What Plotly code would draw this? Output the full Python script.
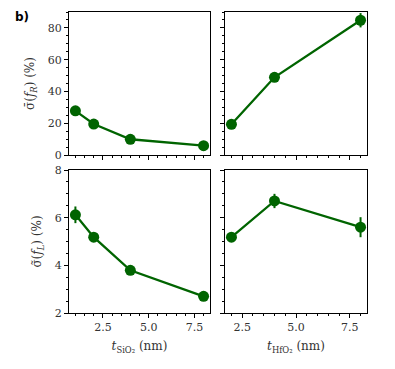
import plotly.graph_objects as go
from plotly.subplots import make_subplots

# data
t_sio2 = [1, 2, 4, 8]
t_hfo2 = [2, 4, 8]

sigma_fr_sio2 = [27.8, 19.5, 9.9, 5.9]
sigma_fr_sio2_err = [0.8, 0.8, 0.6, 0.5]
sigma_fr_hfo2 = [19.3, 48.9, 84.8]
sigma_fr_hfo2_err = [0.8, 1.2, 4.5]

sigma_fl_sio2 = [6.12, 5.18, 3.79, 2.70]
sigma_fl_sio2_err = [0.35, 0.1, 0.1, 0.08]
sigma_fl_hfo2 = [5.18, 6.70, 5.60]
sigma_fl_hfo2_err = [0.1, 0.3, 0.42]

green = "#006400"
font_fam = "DejaVu Serif"

# page body has an 8px margin, so shift everything back by that much
OFF = 8
W, H = 395, 369

fig = make_subplots(rows=2, cols=2, shared_xaxes="columns", shared_yaxes="rows")


def add_series(x, y, err, row, col):
    fig.add_trace(go.Scatter(
        x=x, y=y, mode="lines+markers",
        line=dict(color=green, width=2.3),
        marker=dict(color=green, size=11),
        error_y=dict(type="data", array=err, color=green, thickness=2, width=0),
        showlegend=False), row=row, col=col)


add_series(t_sio2, sigma_fr_sio2, sigma_fr_sio2_err, 1, 1)
add_series(t_hfo2, sigma_fr_hfo2, sigma_fr_hfo2_err, 1, 2)
add_series(t_sio2, sigma_fl_sio2, sigma_fl_sio2_err, 2, 1)
add_series(t_hfo2, sigma_fl_hfo2, sigma_fl_hfo2_err, 2, 2)

axis_style = dict(showline=True, linecolor="black", linewidth=1.2, mirror=True,
                  ticks="outside", ticklen=4, tickwidth=1, tickcolor="black",
                  showgrid=False, zeroline=False, automargin=False,
                  minor=dict(ticks="outside", ticklen=2, tickcolor="black", showgrid=False),
                  tickfont=dict(family=font_fam, size=11, color="#333"))


def xdom(a, b):
    return [(a - OFF) / W, (b - OFF) / W]


def ydom(top, bot):
    return [1 - (bot - OFF) / H, 1 - (top - OFF) / H]


fig.update_xaxes(**axis_style)
fig.update_yaxes(**axis_style)

fig.update_xaxes(domain=xdom(69, 210), range=[0.65, 8.35], dtick=2.5, tick0=0,
                 minor_dtick=0.5, col=1)
fig.update_xaxes(domain=xdom(225, 367), range=[1.7, 8.3], dtick=2.5, tick0=0,
                 minor_dtick=0.5, col=2)
fig.update_xaxes(tickformat=".1f", row=2)

fig.update_yaxes(domain=ydom(12, 155), range=[0, 90], dtick=20, minor_dtick=5, row=1)
fig.update_yaxes(domain=ydom(170, 313), range=[2, 8], dtick=2, minor_dtick=0.5, row=2)

title_font = dict(family=font_fam, size=12, color="#333")
fig.update_yaxes(title=dict(text="σ̄(<i>f<sub>R</sub></i>) (%)", font=title_font, standoff=10),
                 row=1, col=1)
fig.update_yaxes(title=dict(text="σ̃(<i>f<sub>L</sub></i>) (%)", font=title_font, standoff=10),
                 row=2, col=1)
fig.update_xaxes(title=dict(text="<i>t</i><sub>SiO₂</sub> (nm)", font=title_font, standoff=8),
                 row=2, col=1)
fig.update_xaxes(title=dict(text="<i>t</i><sub>HfO₂</sub> (nm)", font=title_font, standoff=8),
                 row=2, col=2)

fig.add_annotation(text="<b>b)</b>", x=(13 - OFF) / W, y=1,
                   xref="paper", yref="paper",
                   showarrow=False, xanchor="left", yanchor="top",
                   font=dict(family="DejaVu Sans", size=12, color="black"))

fig.update_layout(width=W, height=H, margin=dict(l=0, r=0, t=0, b=0),
                  font=dict(family=font_fam),
                  plot_bgcolor="white", paper_bgcolor="white")

fig.write_html("out.html")
